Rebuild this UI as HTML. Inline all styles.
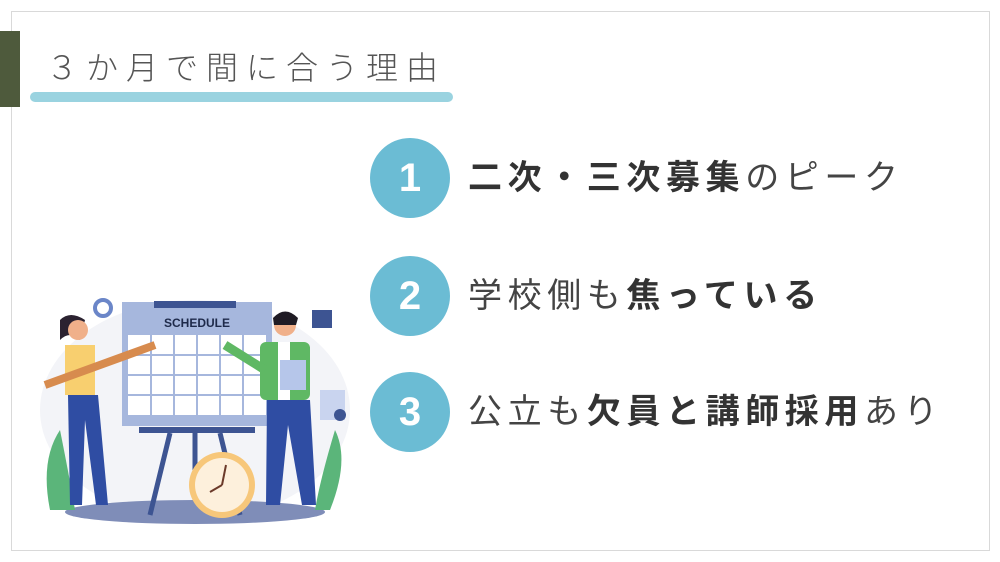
<!DOCTYPE html>
<html><head><meta charset="utf-8"><style>
html,body{margin:0;padding:0;background:#fff}
body{width:1000px;height:562px;position:relative;overflow:hidden;font-family:"Liberation Sans","Noto Sans CJK JP",sans-serif}
.frame{position:absolute;left:11px;top:11px;width:977px;height:538px;border:1px solid #d9d9d9}
.bar{position:absolute;left:0;top:31px;width:20px;height:76px;background:#4e5a3c}
.ul{position:absolute;left:30px;top:92px;width:423px;height:10px;background:#9ad3e0;border-radius:5px}
.title{position:absolute;left:46px;top:48px;font-size:32px;color:#555;letter-spacing:8px;line-height:40px;font-weight:300}
.c{position:absolute;left:370px;width:80px;height:80px;border-radius:50%;background:#6bbcd4;color:#fff;font-size:40px;font-weight:bold;text-align:center;line-height:80px}
.t{position:absolute;left:468px;font-size:34px;color:#444;line-height:44px;letter-spacing:5.6px;white-space:nowrap}
.t b{font-weight:bold;color:#333}
</style></head><body>
<div class="frame"></div>
<div class="bar"></div>
<div class="ul"></div>
<div class="title">３か月で間に合う理由</div>
<div class="c" style="top:138px">1</div>
<div class="c" style="top:256px">2</div>
<div class="c" style="top:372px">3</div>
<div class="t" style="top:156px"><b>二次・三次募集</b>のピーク</div>
<div class="t" style="top:274px">学校側も<b>焦っている</b></div>
<div class="t" style="top:390px">公立も<b>欠員と講師採用</b>あり</div>
<svg style="position:absolute;left:30px;top:280px" width="330" height="250" viewBox="0 0 330 250">
<ellipse cx="165" cy="130" rx="155" ry="110" fill="#f3f4f8"/>
<ellipse cx="165" cy="232" rx="130" ry="12" fill="#7f8db8"/>
<path d="M20 230 Q10 180 30 150 Q40 200 45 230Z" fill="#5bb57a"/>
<path d="M300 230 Q320 180 305 150 Q290 200 285 230Z" fill="#5bb57a"/>
<rect x="92" y="22" width="150" height="124" fill="#a6b7dd"/>
<rect x="124" y="21" width="82" height="7" fill="#3d5492"/>
<text x="167" y="47" font-size="12" font-weight="bold" text-anchor="middle" fill="#1e2a4a" font-family="Liberation Sans">SCHEDULE</text>
<rect x="98" y="55" width="138" height="80" fill="#fff"/>
<g stroke="#a6b7dd" stroke-width="2">
<line x1="121" y1="55" x2="121" y2="135"/><line x1="144" y1="55" x2="144" y2="135"/><line x1="167" y1="55" x2="167" y2="135"/><line x1="190" y1="55" x2="190" y2="135"/><line x1="213" y1="55" x2="213" y2="135"/>
<line x1="98" y1="75" x2="236" y2="75"/><line x1="98" y1="95" x2="236" y2="95"/><line x1="98" y1="115" x2="236" y2="115"/>
</g>
<rect x="109" y="147" width="116" height="6" fill="#3d5492"/>
<path d="M140 153 L120 235 M190 153 L210 235 M165 153 L165 190" stroke="#3d5492" stroke-width="5"/>
<circle cx="192" cy="205" r="33" fill="#f7c77a"/>
<circle cx="192" cy="205" r="27" fill="#fdf0dc"/>
<path d="M192 205 L196 185 M192 205 L180 212" stroke="#6b3a2a" stroke-width="2"/>
<circle cx="73" cy="28" r="8" fill="none" stroke="#6b86c8" stroke-width="4"/>
<path d="M30 40 Q40 30 55 40 L50 60 Q40 50 30 60Z" fill="#2b2230"/>
<circle cx="48" cy="50" r="10" fill="#f0b08a"/>
<rect x="35" y="65" width="30" height="50" fill="#f8cf6f"/>
<path d="M38 115 L68 115 L78 225 L66 225 L55 140 L52 225 L40 225Z" fill="#2f4da3"/>
<path d="M15 105 L125 65" stroke="#d78b4e" stroke-width="8"/>
<circle cx="255" cy="45" r="11" fill="#f0b08a"/>
<path d="M243 38 Q255 25 268 38 L266 45 L244 45Z" fill="#1f1b24"/>
<rect x="230" y="62" width="50" height="58" rx="6" fill="#5fb864"/>
<rect x="248" y="62" width="12" height="58" fill="#fff"/>
<path d="M235 90 L195 65" stroke="#5fb864" stroke-width="9"/>
<rect x="250" y="80" width="26" height="30" fill="#b6c6ea"/>
<path d="M237 120 L280 120 L286 225 L272 225 L258 145 L250 225 L236 225Z" fill="#2f4da3"/>
<rect x="282" y="30" width="20" height="18" fill="#3d5492"/>
<rect x="290" y="110" width="25" height="30" fill="#c9d4ef"/>
<circle cx="310" cy="135" r="6" fill="#3d5492"/>
</svg>
</body></html>
